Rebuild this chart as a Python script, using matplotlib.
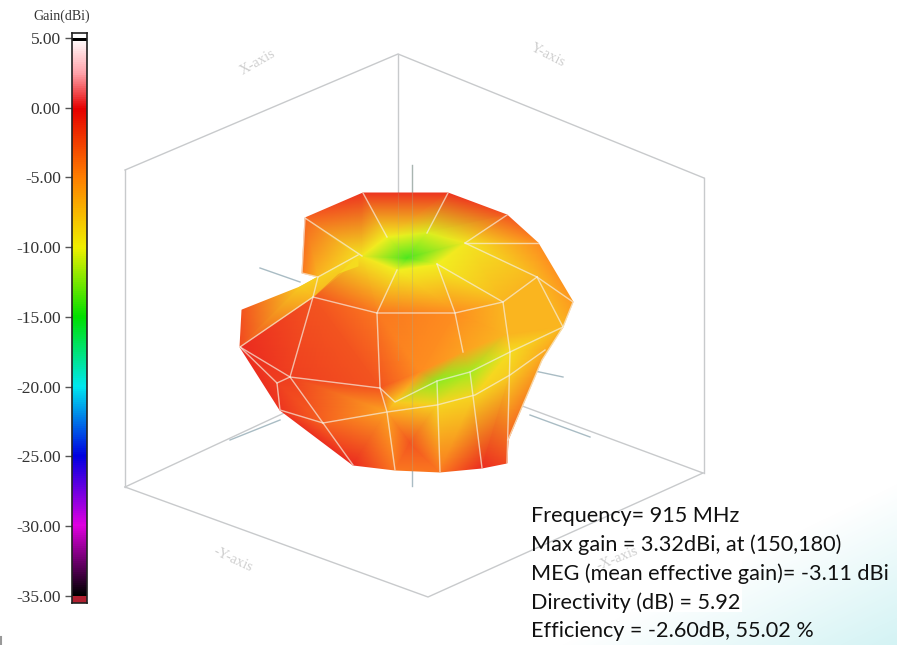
import numpy as np
import matplotlib
matplotlib.use("Agg")
import matplotlib.pyplot as plt
from matplotlib.colors import LinearSegmentedColormap, Normalize, to_rgb
from matplotlib.patches import Rectangle
from matplotlib.tri import Triangulation

W, H = 897, 645

# colour scale of the gain bar
scale_ticks = [5, 0, -5, -10, -15, -20, -25, -30, -35]
scale_values = [-35, -30, -25, -20, -15, -10, -5, 0, 2.5, 5]
scale_colors = ["#000000", "#e000e0", "#0000e0", "#00e8f0", "#00e000",
                "#f0f000", "#ff8000", "#e60000", "#ffa0a8", "#ffffff"]

# projected mesh of the pattern, picture coordinates and gain in dBi
mesh_x = [305, 363, 448, 507, 538, 537, 503, 455, 377, 313, 318, 358,      # 0-11 top cap rim
          407, 387, 427, 465, 437, 397, 362,                               # 12-18 pole
          290, 380, 277, 280, 323, 387,                                    # 19-24 lower left
          395, 437, 470, 510, 563,                                         # 25-29 band ridge
          420, 463, 505,                                                   # 30-32 band top
          437, 475, 510, 545,                                              # 33-36 band bottom
          353, 395, 440, 482, 507, 508,                                    # 37-42 bottom
          573, 542, 410,                                                   # 43-45
          240, 242, 300, 358, 302,                                         # 46-50 fold
          313, 240]                                                        # 51-52 fold lower edge
mesh_y = [218, 193, 193, 215, 243, 277, 302, 313, 313, 297, 277, 255,
          258, 237, 233, 243, 264, 270, 256,
          377, 388, 383, 410, 423, 412,
          402, 381, 372, 352, 327,
          372, 352, 335,
          405, 395, 375, 350,
          465, 470, 472, 468, 463, 440,
          302, 360, 443,
          347, 310, 287, 266, 273,
          297, 347]
mesh_gain = [-3.0, -1.0, -1.0, -2.5, -5.0, -7.0, -7.0, -5.0, -4.0, -2.5, -7.0, -9.0,
             -14.0, -10.0, -10.5, -9.5, -10.0, -10.0, -9.5,
             -1.5, -2.5, -1.5, -1.0, -3.0, -6.0,
             -8.0, -12.5, -12.0, -9.0, -7.0,
             -5.0, -6.0, -7.0,
             -8.5, -8.5, -8.0, -6.5,
             -0.5, -4.0, -4.0, -0.5, -2.0, -3.0,
             -5.5, -6.0, -2.5,
             -0.5, -2.5, -8.0, -9.0, -4.0,
             -7.0, -2.0]
mesh_tris = [
    (0, 50, 10), (0, 10, 11), (18, 0, 11), (18, 0, 1), (18, 1, 13), (13, 1, 2), (13, 2, 14),
    (14, 2, 3), (14, 3, 15), (15, 3, 4), (15, 4, 5), (15, 5, 6), (16, 15, 6), (16, 6, 7),
    (17, 16, 7), (17, 7, 8), (18, 17, 8), (18, 8, 9), (18, 9, 11), (11, 9, 10),
    (12, 13, 14), (12, 14, 15), (12, 15, 16), (12, 16, 17), (12, 17, 18), (12, 18, 13),
    (4, 43, 5), (5, 43, 29), (5, 29, 6), (6, 29, 32), (6, 32, 7), (7, 32, 31), (7, 31, 30),
    (7, 30, 8), (8, 30, 20), (9, 8, 20), (9, 20, 19),
    (20, 30, 25), (30, 26, 25), (30, 31, 26), (31, 27, 26), (31, 32, 27), (32, 28, 27),
    (32, 29, 28), (28, 29, 36), (29, 44, 36),
    (25, 26, 33), (26, 27, 33), (27, 34, 33), (27, 28, 34), (28, 35, 34), (28, 36, 35),
    (20, 25, 24), (25, 33, 24), (19, 20, 24), (19, 24, 23), (21, 19, 23), (21, 23, 22),
    (22, 23, 37), (23, 24, 37), (24, 38, 37), (24, 33, 45), (24, 45, 38), (45, 39, 38),
    (33, 39, 45), (33, 34, 39), (34, 40, 39), (34, 35, 40), (35, 41, 40), (35, 42, 41),
    (35, 36, 42), (36, 44, 42),
    (46, 9, 19), (46, 19, 21), (46, 21, 22),
    (52, 47, 48), (52, 48, 51), (48, 49, 11), (48, 11, 51),
]
# white wire lines over the surface, as vertex indices
wire_lines = [
    [0, 18], [1, 13], [2, 14], [3, 15], [4, 15], [5, 15],
    [11, 10, 9, 8, 7, 6, 5], [0, 50, 10],
    [6, 16], [7, 16], [8, 17], [9, 19], [8, 20], [7, 31], [6, 28],
    [5, 43, 29, 44, 42], [5, 29],
    [19, 20, 24, 33, 34, 35, 36], [21, 19, 23, 37], [46, 19], [46, 9], [46, 21, 22, 23],
    [23, 24, 38], [26, 39], [27, 40], [28, 41], [20, 25, 26, 27, 28, 29],
]

# wire box and axes of the 3D view
box_edges_x = [[125, 398, 704], [125, 125], [398, 398], [704, 704], [125, 428, 703], [125, 398, 703]]
box_edges_y = [[170, 54, 178], [170, 487], [54, 360], [178, 473], [487, 597, 473], [487, 360, 473]]
axis_lines_x = [[412, 412], [412, 412], [260, 300], [530, 563], [530, 590], [230, 280]]
axis_lines_y = [[165, 470], [470, 486], [268, 282], [370, 377], [415, 437], [440, 420]]
axis_names = ["X-axis", "Y-axis", "-Y-axis", "-X-axis"]
axis_name_x = [258, 548, 233, 617]
axis_name_y = [62, 55, 560, 559]
axis_name_rot = [30, -27, -25, 22]

info_lines = ["Frequency= 915 MHz", "Max gain = 3.32dBi, at (150,180)",
              "MEG (mean effective gain)= -3.11 dBi", "Directivity (dB) = 5.92",
              "Efficiency = -2.60dB, 55.02 %"]
info_y = [522, 551, 580, 609, 637]

fig = plt.figure(figsize=(W / 100, H / 100), dpi=100)
ax = fig.add_axes([0, 0, 1, 1])

# pale teal wash in the bottom right corner
yy, xx = np.mgrid[0:H, 0:W]
wash = np.clip((xx * 0.48 + yy - 914) / 170, 0, 1)
bg = np.ones((H, W, 3))
teal = np.array([0.82, 0.95, 0.955])
bg = bg * (1 - wash[..., None]) + teal * wash[..., None]
ax.imshow(bg, extent=(0, W, H, 0), aspect="auto", zorder=0)
ax.add_patch(Rectangle((527, 500), 215, 112, fc="white", ec="none", zorder=1))
ax.plot([1, 1], [637, 645], color="#999999", lw=1.5, zorder=1)
ax.set_xlim(0, W)
ax.set_ylim(H, 0)
ax.axis("off")

for xs, ys in zip(box_edges_x, box_edges_y):
    ax.plot(xs, ys, color="#c8cacc", lw=1.0, zorder=2)
for xs, ys in zip(axis_lines_x, axis_lines_y):
    ax.plot(xs, ys, color="#a9bcc4", lw=1.0, zorder=2)
for name, x, y, r in zip(axis_names, axis_name_x, axis_name_y, axis_name_rot):
    ax.text(x, y, name, color="#cfcfcf", fontsize=10.5, family="Liberation Serif",
            rotation=r, ha="center", va="center", zorder=2)

stops = [(v + 35) / 40 for v in scale_values]
cmap = LinearSegmentedColormap.from_list("gain", list(zip(stops, scale_colors)))
# the surface is a bit paler than the bar, the box shows through it
pale = [tuple(0.88 * np.array(to_rgb(c)) + 0.12) for c in scale_colors]
surface_cmap = LinearSegmentedColormap.from_list("gain_pale", list(zip(stops, pale)))
norm = Normalize(-35, 5)

tri = Triangulation(mesh_x, mesh_y, mesh_tris)
ax.tripcolor(tri, mesh_gain, shading="gouraud", cmap=surface_cmap, norm=norm, zorder=3)
ax.plot(axis_lines_x[0], axis_lines_y[0], color="#a9a98c", lw=0.8, alpha=0.35, zorder=3.5)
ax.plot(box_edges_x[2], [193, 360], color="#a9a98c", lw=0.8, alpha=0.2, zorder=3.5)
for line in wire_lines:
    ax.plot([mesh_x[i] for i in line], [mesh_y[i] for i in line],
            color="#f6eee0", lw=1.0, alpha=0.7, zorder=4)
ax.set_xlim(0, W)
ax.set_ylim(H, 0)

for s, y in zip(info_lines, info_y):
    ax.text(531, y, s, fontsize=15.6, family="Lato", color="#111111", va="baseline", zorder=6)

# gain bar
top, bottom = 33, 603
per_px = 40 / (596 - 38)
cax = fig.add_axes([72 / W, 1 - bottom / H, 15 / W, (bottom - top) / H])
cax.set_ylim(-35 - (bottom - 596) * per_px, 5 + (38 - top) * per_px)
grad = np.linspace(5, -35, 512).reshape(-1, 1)
cax.imshow(grad, cmap=cmap, norm=norm, aspect="auto", extent=(0, 1, -35, 5))
cax.add_patch(Rectangle((0, 4.75), 1, 1, fc="black", ec="none"))
cax.add_patch(Rectangle((0, 5.0), 1, 1, fc="white", ec="none"))
cax.add_patch(Rectangle((0, -36), 1, 1, fc="#b02030", ec="none"))
cax.set_xlim(0, 1)
cax.set_xticks([])
cax.set_yticks(scale_ticks)
cax.set_yticklabels([f"{t:.2f}" for t in scale_ticks], family="Liberation Serif",
                    fontsize=12.5, color="#333333")
cax.tick_params(axis="y", length=5, width=1, color="#555555", pad=3)
for sp in cax.spines.values():
    sp.set_linewidth(1.2)
    sp.set_color("#222222")
fig.text(62 / W, 1 - 16 / H, "Gain(dBi)", family="Liberation Serif", fontsize=10,
         color="#333333", ha="center", va="center")

fig.savefig("out.png", dpi=100)
